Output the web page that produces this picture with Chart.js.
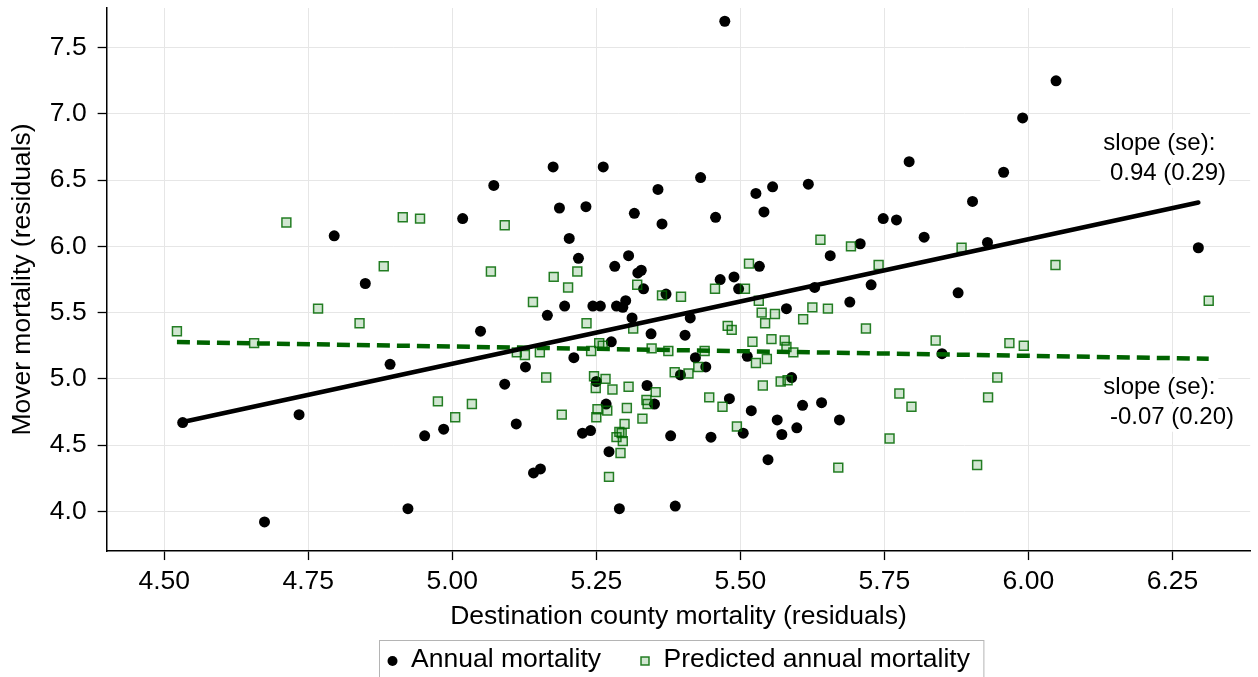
<!DOCTYPE html>
<html>
<head>
<meta charset="utf-8">
<title>Mover mortality vs destination county mortality</title>
<script src="https://cdn.jsdelivr.net/npm/chart.js@4.4.1/dist/chart.umd.min.js"></script>
<style>
  html, body { margin: 0; padding: 0; background: #fff; overflow: hidden; }
  canvas { display: block; }
</style>
</head>
<body>
<canvas id="chart" width="1258" height="677"></canvas>
<script>
// county residuals: destination mortality (x) vs mover mortality (y)
const annualX = [4.532, 4.674, 4.734, 4.795, 4.849, 4.892, 4.923, 4.952, 4.985, 5.018,
  5.049, 5.072, 5.091, 5.111, 5.127, 5.141, 5.153, 5.165, 5.175, 5.186,
  5.195, 5.203, 5.211, 5.219, 5.226, 5.232, 5.240, 5.244, 5.250, 5.257,
  5.262, 5.267, 5.272, 5.276, 5.282, 5.285, 5.290, 5.296, 5.301, 5.306,
  5.312, 5.316, 5.322, 5.328, 5.332, 5.338, 5.345, 5.351, 5.357, 5.364,
  5.371, 5.379, 5.387, 5.396, 5.404, 5.413, 5.422, 5.431, 5.440, 5.449,
  5.457, 5.465, 5.473, 5.481, 5.489, 5.497, 5.505, 5.512, 5.519, 5.527,
  5.533, 5.541, 5.548, 5.556, 5.564, 5.572, 5.580, 5.589, 5.598, 5.608,
  5.618, 5.629, 5.641, 5.656, 5.672, 5.690, 5.708, 5.727, 5.748, 5.771,
  5.793, 5.819, 5.850, 5.878, 5.903, 5.929, 5.957, 5.990, 6.048, 6.295];
const annualY = [4.67, 3.92, 4.73, 6.08, 5.72, 5.11, 4.02, 4.57, 4.62, 6.21,
  5.36, 6.46, 4.96, 4.66, 5.09, 4.29, 4.32, 5.48, 6.60, 6.29,
  5.55, 6.06, 5.16, 5.91, 4.59, 6.30, 4.61, 5.55, 4.98, 5.55,
  6.60, 4.81, 4.45, 5.28, 5.85, 5.55, 4.02, 5.54, 5.59, 5.93,
  5.46, 6.25, 5.80, 5.82, 5.68, 4.95, 5.34, 4.81, 6.43, 6.17,
  5.64, 4.57, 4.04, 5.03, 5.33, 5.46, 5.16, 6.52, 5.09, 4.56,
  6.22, 5.75, 7.70, 4.85, 5.77, 5.68, 4.59, 5.17, 4.76, 6.40,
  5.85, 6.26, 4.39, 6.45, 4.69, 4.58, 5.53, 5.01, 4.63, 4.80,
  6.47, 5.69, 4.82, 5.93, 4.69, 5.58, 6.02, 5.71, 6.21, 6.20,
  6.64, 6.07, 5.19, 5.65, 6.34, 6.03, 6.56, 6.97, 7.25, 5.99];

const predictedX = [4.522, 4.656, 4.712, 4.767, 4.839, 4.881, 4.914, 4.944, 4.975, 5.005,
  5.034, 5.067, 5.091, 5.112, 5.126, 5.140, 5.152, 5.163, 5.176, 5.190,
  5.201, 5.217, 5.233, 5.241, 5.246, 5.249, 5.250, 5.252, 5.255, 5.261,
  5.266, 5.269, 5.272, 5.278, 5.285, 5.290, 5.292, 5.294, 5.296, 5.299,
  5.303, 5.306, 5.314, 5.321, 5.330, 5.337, 5.339, 5.346, 5.353, 5.364,
  5.375, 5.386, 5.397, 5.410, 5.427, 5.438, 5.446, 5.456, 5.469, 5.478,
  5.485, 5.494, 5.508, 5.515, 5.521, 5.527, 5.532, 5.537, 5.539, 5.543,
  5.546, 5.554, 5.560, 5.570, 5.577, 5.580, 5.582, 5.592, 5.609, 5.625,
  5.639, 5.652, 5.670, 5.692, 5.718, 5.740, 5.759, 5.776, 5.797, 5.839,
  5.884, 5.911, 5.930, 5.946, 5.967, 5.992, 6.047, 6.313];
const predictedY = [5.36, 5.27, 6.18, 5.53, 5.42, 5.85, 6.22, 6.21, 4.83, 4.71,
  4.81, 5.81, 6.16, 5.20, 5.18, 5.58, 5.20, 5.01, 5.77, 4.73,
  5.69, 5.81, 5.42, 5.21, 5.02, 4.93, 4.71, 4.77, 5.27, 5.25,
  5.00, 4.76, 4.26, 4.92, 4.56, 4.60, 4.44, 4.59, 4.53, 4.66,
  4.78, 4.94, 5.38, 5.71, 4.70, 4.84, 4.81, 5.23, 4.90, 5.63,
  5.21, 5.05, 5.62, 5.04, 5.09, 5.21, 4.86, 5.68, 4.79, 5.40,
  5.37, 4.64, 5.68, 5.87, 5.28, 5.12, 5.59, 5.50, 4.95, 5.42,
  5.15, 5.30, 5.49, 4.98, 5.29, 5.24, 4.99, 5.20, 5.45, 5.54,
  6.05, 5.53, 4.33, 6.00, 5.38, 5.86, 4.55, 4.89, 4.79, 5.29,
  5.99, 4.35, 4.86, 5.01, 5.27, 5.25, 5.86, 5.59];

// linear fits: [slope, se, intercept]
const annualFit = [0.94, 0.29, 0.414];
const predictedFit = [-0.07, 0.20, 5.594];

const xTicks = [4.50, 4.75, 5.00, 5.25, 5.50, 5.75, 6.00, 6.25];
const yTicks = [4.0, 4.5, 5.0, 5.5, 6.0, 6.5, 7.0, 7.5];
const seriesNames = ['Annual mortality', 'Predicted annual mortality'];

const FONT = '"Liberation Sans", Arial, Helvetica, sans-serif';
const GREEN_FILL = 'rgba(0, 115, 0, 0.18)';
const GREEN_EDGE = 'rgba(0, 105, 0, 0.85)';

const toPoints = (xs, ys) => xs.map((x, i) => ({ x, y: ys[i] }));

// fitted line over the range of its own series
function fitLine(xs, fit) {
  const lo = Math.min(...xs), hi = Math.max(...xs);
  return [lo, hi].map(x => ({ x, y: fit[2] + fit[0] * x }));
}

function slopeText(fit) {
  return ['slope (se):', ' ' + fit[0].toFixed(2) + ' (' + fit[1].toFixed(2) + ')'];
}

// where the slope notes sit, in data units (left edge, first line)
const notes = [
  { at: [6.13, 6.775], lines: slopeText(annualFit) },
  { at: [6.13, 4.933], lines: slopeText(predictedFit) }
];

const slopeNotes = {
  id: 'slopeNotes',
  afterDatasetsDraw(chart) {
    const { ctx, scales: { x, y } } = chart;
    ctx.save();
    ctx.font = '24px ' + FONT;
    ctx.textBaseline = 'middle';
    ctx.textAlign = 'left';
    notes.forEach(n => {
      const px = x.getPixelForValue(n.at[0]);
      let py = y.getPixelForValue(n.at[1]);
      n.lines.forEach(line => {
        const w = ctx.measureText(line).width;
        ctx.fillStyle = '#fff';
        ctx.fillRect(px - 3, py - 14, w + 6, 28);
        ctx.fillStyle = '#000';
        ctx.fillText(line, px, py);
        py += 30;
      });
    });
    ctx.restore();
  }
};

// boxed legend under the axis title
const boxLegend = {
  id: 'boxLegend',
  afterDraw(chart) {
    const { ctx, chartArea } = chart;
    ctx.save();
    ctx.font = '26.5px ' + FONT;
    const w = seriesNames.map(t => ctx.measureText(t).width);
    const total = 13 + 18.5 + w[0] + 44 + 18.5 + w[1] + 14;
    const left = Math.round((chartArea.left + chartArea.right) / 2 - total / 2) + 3.5;
    const top = 640.5;
    const cy = 660;

    ctx.strokeStyle = '#b4b4b4';
    ctx.lineWidth = 1;
    ctx.strokeRect(left, top, total, 50);

    // black dot
    let mx = left + 13;
    ctx.fillStyle = '#000';
    ctx.beginPath();
    ctx.arc(mx, cy + 1, 5, 0, Math.PI * 2);
    ctx.fill();
    ctx.textBaseline = 'middle';
    ctx.fillText(seriesNames[0], mx + 18.5, cy);

    // green square
    mx = mx + 18.5 + w[0] + 44;
    ctx.fillStyle = '#fff';
    ctx.fillRect(mx - 4, cy - 3, 8, 8);
    ctx.fillStyle = GREEN_FILL;
    ctx.fillRect(mx - 4, cy - 3, 8, 8);
    ctx.strokeStyle = GREEN_EDGE;
    ctx.lineWidth = 1.5;
    ctx.strokeRect(mx - 4, cy - 3, 8, 8);
    ctx.fillStyle = '#000';
    ctx.fillText(seriesNames[1], mx + 18.5, cy);
    ctx.restore();
  }
};

const tickFont = { family: FONT, size: 26.5 };
const gridOpts = { color: '#e6e6e6', lineWidth: 1, tickColor: '#000', tickWidth: 1.3, tickLength: 9 };
const borderOpts = { display: true, color: '#000', width: 1.5 };
const noEdgePadding = s => { s.paddingTop = 0; s.paddingBottom = 0; s.paddingLeft = 0; s.paddingRight = 0; };

new Chart(document.getElementById('chart'), {
  type: 'scatter',
  data: {
    datasets: [
      {
        label: seriesNames[0],
        data: toPoints(annualX, annualY),
        pointStyle: 'circle',
        pointRadius: 5.5,
        backgroundColor: '#000',
        borderColor: '#000',
        borderWidth: 0,
        order: 3
      },
      {
        label: seriesNames[1],
        data: toPoints(predictedX, predictedY),
        pointStyle: 'rect',
        pointRadius: 6.3,
        backgroundColor: GREEN_FILL,
        borderColor: GREEN_EDGE,
        borderWidth: 1.5,
        order: 2
      },
      {
        type: 'line',
        label: 'fit predicted',
        data: fitLine(predictedX, predictedFit),
        borderColor: '#006400',
        borderWidth: 4.5,
        borderDash: [13, 7],
        pointRadius: 0,
        fill: false,
        order: 1
      },
      {
        type: 'line',
        label: 'fit annual',
        data: fitLine(annualX, annualFit),
        borderColor: '#000',
        borderWidth: 4.5,
        borderCapStyle: 'round',
        pointRadius: 0,
        fill: false,
        order: 0
      }
    ]
  },
  options: {
    responsive: false,
    animation: false,
    devicePixelRatio: 1,
    layout: { padding: { left: 2, right: 3, top: 8, bottom: 47.3 } },
    plugins: {
      legend: { display: false },
      tooltip: { enabled: false }
    },
    scales: {
      x: {
        type: 'linear',
        min: 4.40,
        max: 6.385,
        afterBuildTicks: s => { s.ticks = xTicks.map(v => ({ value: v })); },
        afterFit: noEdgePadding,
        ticks: {
          callback: v => v.toFixed(2),
          autoSkip: false,
          maxRotation: 0,
          padding: 7,
          color: '#000',
          font: { family: FONT, size: 26.5, lineHeight: 1.1 }
        },
        grid: gridOpts,
        border: borderOpts,
        title: {
          display: true,
          text: 'Destination county mortality (residuals)',
          color: '#000',
          font: { family: FONT, size: 26.5, lineHeight: 1.0 },
          padding: { top: 0, bottom: 0 }
        }
      },
      y: {
        type: 'linear',
        min: 3.70,
        max: 7.80,
        afterBuildTicks: s => { s.ticks = yTicks.map(v => ({ value: v })); },
        afterFit: noEdgePadding,
        ticks: {
          callback: v => v.toFixed(1),
          padding: 11,
          color: '#000',
          font: tickFont
        },
        grid: gridOpts,
        border: borderOpts,
        title: {
          display: true,
          text: 'Mover mortality (residuals)',
          color: '#000',
          font: tickFont,
          padding: { top: 5, bottom: 0 }
        }
      }
    }
  },
  plugins: [slopeNotes, boxLegend]
});
</script>
</body>
</html>
